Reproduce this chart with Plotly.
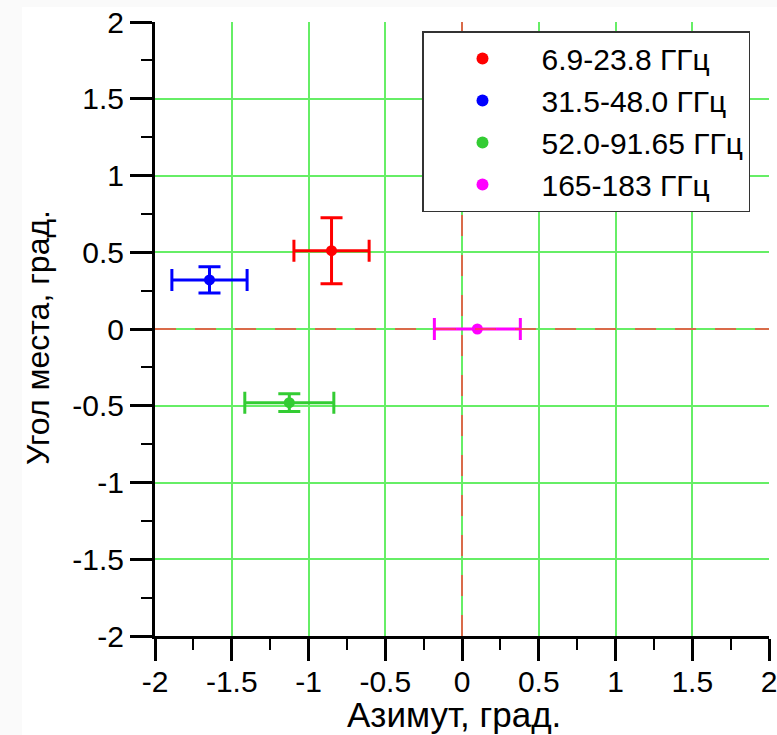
import plotly.graph_objects as go

names = ["6.9-23.8 ГГц", "31.5-48.0 ГГц", "52.0-91.65 ГГц", "165-183 ГГц"]
colors = ["#ff0000", "#0000ff", "#33cc33", "#ff00ff"]
az = [-0.85, -1.645, -1.125, 0.10]
el = [0.51, 0.32, -0.48, 0.0]
az_err = [0.245, 0.245, 0.29, 0.28]
el_err = [0.215, 0.085, 0.058, 0.0]

tick_vals = [-2, -1.5, -1, -0.5, 0, 0.5, 1, 1.5, 2]
tick_text = ["-2", "-1.5", "-1", "-0.5", "0", "0.5", "1", "1.5", "2"]
x_title = "Азимут, град."
y_title = "Угол места, град."

FONT = "Liberation Sans, Arial, sans-serif"
GRID = "#66ee66"

fig = go.Figure()
for n, c, x, y, ex, ey in zip(names, colors, az, el, az_err, el_err):
    fig.add_trace(go.Scatter(
        x=[x], y=[y], mode="markers", name=n,
        marker=dict(color=c, size=11),
        error_x=dict(type="data", array=[ex], color=c, thickness=3, width=11),
        error_y=dict(type="data", array=[ey], color=c, thickness=3, width=11, visible=ey > 0),
    ))

axis_common = dict(
    range=[-2, 2], tickvals=tick_vals, ticktext=tick_text, automargin=False,
    showgrid=True, gridcolor=GRID, gridwidth=1.5, zeroline=False,
    showline=True, linecolor="black", linewidth=3,
    ticks="outside", ticklen=22, tickwidth=3, tickcolor="black",
    tickfont=dict(family=FONT, size=30, color="black"),
    ticklabeloverflow="allow",
    minor=dict(dtick=0.25, tick0=0, ticks="outside", ticklen=11, tickwidth=2,
               tickcolor="black", showgrid=False),
)

fig.update_xaxes(**axis_common, ticklabelstandoff=-5)
fig.update_yaxes(**axis_common)

shapes = [
    # faint grey page border
    dict(type="rect", xref="paper", yref="paper", x0=(22 - 155) / 614, x1=1.02,
         y0=-0.17, y1=(636 - 7) / 614, fillcolor="white", line=dict(width=0), layer="below"),
    # dashed red zero lines
    dict(type="line", xref="x", yref="paper", x0=0, x1=0, y0=0, y1=1,
         line=dict(color="#ff4040", width=1.5, dash="21px,19px"), layer="above"),
    dict(type="line", xref="paper", yref="y", x0=0, x1=1, y0=0, y1=0,
         line=dict(color="#ff4040", width=1.5, dash="21px,19px"), layer="above"),
]

annotations = [
    dict(text=x_title, xref="paper", yref="paper", x=(454 - 155) / 614, y=(636 - 714) / 614,
         xanchor="center", yanchor="middle", showarrow=False,
         font=dict(family=FONT, size=35, color="black")),
    dict(text=y_title, xref="paper", yref="paper", x=(38 - 155) / 614, y=(636 - 338) / 614,
         xanchor="center", yanchor="middle", showarrow=False, textangle=-90,
         font=dict(family=FONT, size=32, color="black")),
]

fig.update_layout(
    width=777, height=735,
    margin=dict(l=155, r=8, t=22, b=99, autoexpand=False),
    paper_bgcolor="#fafafa", plot_bgcolor="white",
    font=dict(family=FONT, color="black"),
    shapes=shapes, annotations=annotations,
    legend=dict(
        x=(422 - 155) / 614, y=(636 - 31) / 614, xanchor="left", yanchor="top",
        bgcolor="white", bordercolor="#333333", borderwidth=1.5,
        font=dict(family=FONT, size=30, color="black"),
        itemwidth=108, itemsizing="constant",
    ),
    showlegend=True,
)

fig.write_html("out.html")
